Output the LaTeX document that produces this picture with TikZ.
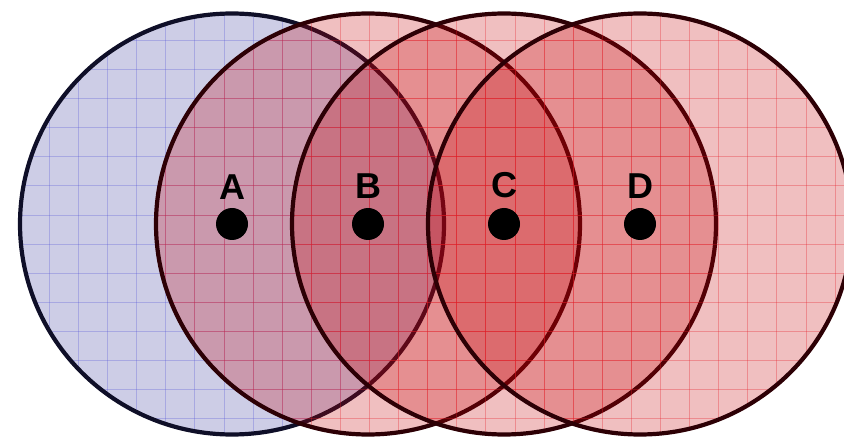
\documentclass[tikz,border=0pt]{standalone}
\usepackage{fontspec}
\setmainfont{Liberation Sans}
\definecolor{bfill}{RGB}{55,55,155}
\definecolor{rfill}{RGB}{195,0,5}
\definecolor{bgrid}{RGB}{90,90,215}
\definecolor{rgrid}{RGB}{230,30,40}
\definecolor{bline}{RGB}{15,15,40}
\definecolor{rline}{RGB}{45,0,5}
\tikzset{
  lbl/.style={font=\fontsize{36}{42}\selectfont\bfseries, inner sep=0pt, anchor=center},
  dotnode/.style={circle, fill=black, minimum size=32pt, inner sep=0pt},
  rim/.style={line width=4.2pt},
}
\newcommand{\gridlines}[1]{%
  \foreach \k in {-2,...,28} {\draw[#1, line width=0.8pt, draw opacity=0.32] ({49.3+29.1*(\k)},0) -- ({49.3+29.1*(\k)},438);}%
  \foreach \k in {-1,...,15} {\draw[#1, line width=0.8pt, draw opacity=0.32] (0,{11.3+29.1*(\k)}) -- (844,{11.3+29.1*(\k)});}%
}
\begin{document}
\begin{tikzpicture}[x=1pt,y=-1pt]
\useasboundingbox (0,0) rectangle (844,438);
\coordinate (cA) at (232,224);
\coordinate (cB) at (368,224);
\coordinate (cC) at (504,224);
\coordinate (cD) at (640,224);
% circle A (blue)
\begin{scope}
  \clip (cA) ellipse [x radius=212pt, y radius=210.5pt];
  \fill[bfill, fill opacity=0.25] (0,0) rectangle (844,438);
  \gridlines{bgrid}
\end{scope}
\draw[rim, bline] (cA) ellipse [x radius=212pt, y radius=210.5pt];
% red circles
\foreach \c in {cB,cC,cD} {
  \begin{scope}
    \clip (\c) ellipse [x radius=212pt, y radius=210.5pt];
    \fill[rfill, fill opacity=0.25] (0,0) rectangle (844,438);
    \gridlines{rgrid}
  \end{scope}
  \draw[rim, rline] (\c) ellipse [x radius=212pt, y radius=210.5pt];
}
% labels and dots
\node[lbl] (lA) at (232,187) {A};
\node[lbl] (lB) at (368,186) {B};
\node[lbl] (lC) at (504,185) {C};
\node[lbl] (lD) at (640,186) {D};
\node[dotnode] (dA) at (cA) {};
\node[dotnode] (dB) at (cB) {};
\node[dotnode] (dC) at (cC) {};
\node[dotnode] (dD) at (cD) {};
\end{tikzpicture}
\end{document}
